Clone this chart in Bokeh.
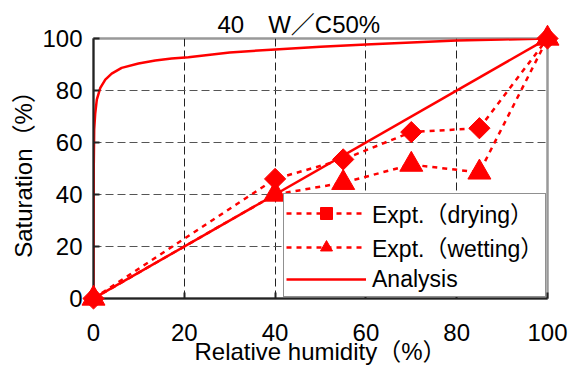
from bokeh.plotting import figure
from bokeh.models import Range1d, Legend, LegendItem
from bokeh.embed import file_html
from bokeh.resources import INLINE
import math

# Data
title_text = "40　W／C50%"
dry_rh = [0, 40, 55, 70, 85, 100]
dry_s = [0, 46, 53.5, 64, 65.5, 100]
wet_rh = [0, 40, 55, 70, 85, 100]
wet_s = [0, 40, 44.5, 51.5, 48.5, 100]
ana_curve_rh = [0, 0.02, 0.05, 0.15, 0.37, 0.73, 1.5, 2.6, 4.0, 6.2, 9.9, 13.6, 17.2, 20.9, 30, 40, 50, 60, 70, 80, 90, 100]
ana_curve_s = [0, 30, 50, 65, 71, 76.5, 81, 84.2, 86.5, 88.7, 90.4, 91.5, 92.3, 92.8, 94.6, 95.8, 96.8, 97.7, 98.5, 99.2, 99.6, 100]
ana_line_rh = [0, 100]
ana_line_s = [0, 100]
ticks = [0, 20, 40, 60, 80, 100]

FONT = "Liberation Sans, Arial, Noto Sans CJK JP"
RED = "#ff0000"

p = figure(width=575, height=372, output_backend="svg", toolbar_location=None,
           x_range=Range1d(0, 100), y_range=Range1d(0, 100),
           frame_width=454, frame_height=260,
           min_border_left=93, min_border_right=28, min_border_top=38, min_border_bottom=74)
p.background_fill_color = "white"
p.border_fill_color = "white"
p.outline_line_color = "#999999"
p.outline_line_width = 2.5

p.title.text = title_text
p.title.text_font = FONT
p.title.text_font_size = "24px"
p.title.text_font_style = "normal"
p.title.text_color = "black"
p.title.align = "left"
p.title.offset = 124
p.title.standoff = 2

for ax in (p.xaxis[0], p.yaxis[0]):
    ax.ticker = ticks
    ax.axis_line_color = "#222222"
    ax.axis_line_width = 2
    ax.major_tick_in = 6
    ax.major_tick_out = 0
    ax.major_tick_line_color = "#222222"
    ax.major_tick_line_width = 2
    ax.minor_tick_line_color = None
    ax.major_label_text_font = FONT
    ax.major_label_text_font_size = "24px"
    ax.major_label_text_color = "black"
    ax.axis_label_text_font = FONT
    ax.axis_label_text_font_size = "24px"
    ax.axis_label_text_font_style = "normal"
    ax.axis_label_text_color = "black"

p.xaxis.axis_label = "Relative humidity（%）"
p.yaxis.axis_label = "Saturation（%）"
p.xaxis.major_label_standoff = 25
p.yaxis.major_label_standoff = 11
p.xaxis.axis_label_standoff = -6
p.yaxis.axis_label_standoff = 2

p.xgrid[0].grid_line_color = "#222222"
p.ygrid[0].grid_line_color = "#555555"
for g in (p.xgrid[0], p.ygrid[0]):
    g.ticker = ticks
    g.grid_line_dash = "8 4"
    g.grid_line_width = 1

# Analysis
la1 = p.line(ana_curve_rh, ana_curve_s, line_color=RED, line_width=2.5)
la2 = p.line(ana_line_rh, ana_line_s, line_color=RED, line_width=2.5)

# Experiments
ld = p.line(dry_rh, dry_s, line_color=RED, line_width=2.5, line_dash="5 5")
sd = p.scatter(dry_rh, dry_s, marker="square", angle=math.pi / 4, size=15,
               fill_color=RED, line_color=RED, level="overlay")
lw = p.line(wet_rh, wet_s, line_color=RED, line_width=2.5, line_dash="5 5")
sw = p.scatter(wet_rh, wet_s, marker="triangle", size=23,
               fill_color=RED, line_color=RED, level="overlay")

legend = Legend(items=[
    LegendItem(label="Expt.（drying）", renderers=[ld, sd]),
    LegendItem(label="Expt.（wetting）", renderers=[lw, sw]),
    LegendItem(label="Analysis", renderers=[la2]),
], location=(190, 1))
legend.label_text_font = FONT
legend.label_text_font_size = "23px"
legend.label_text_color = "black"
legend.glyph_width = 80
legend.glyph_height = 30
legend.label_height = 30
legend.spacing = -3
legend.padding = 2
legend.margin = 0
legend.label_standoff = 6
legend.border_line_color = "#222222"
legend.border_line_width = 1.5
legend.background_fill_color = "white"
legend.background_fill_alpha = 1
p.add_layout(legend, "center")

open("out.html", "w").write(file_html(p, INLINE))
